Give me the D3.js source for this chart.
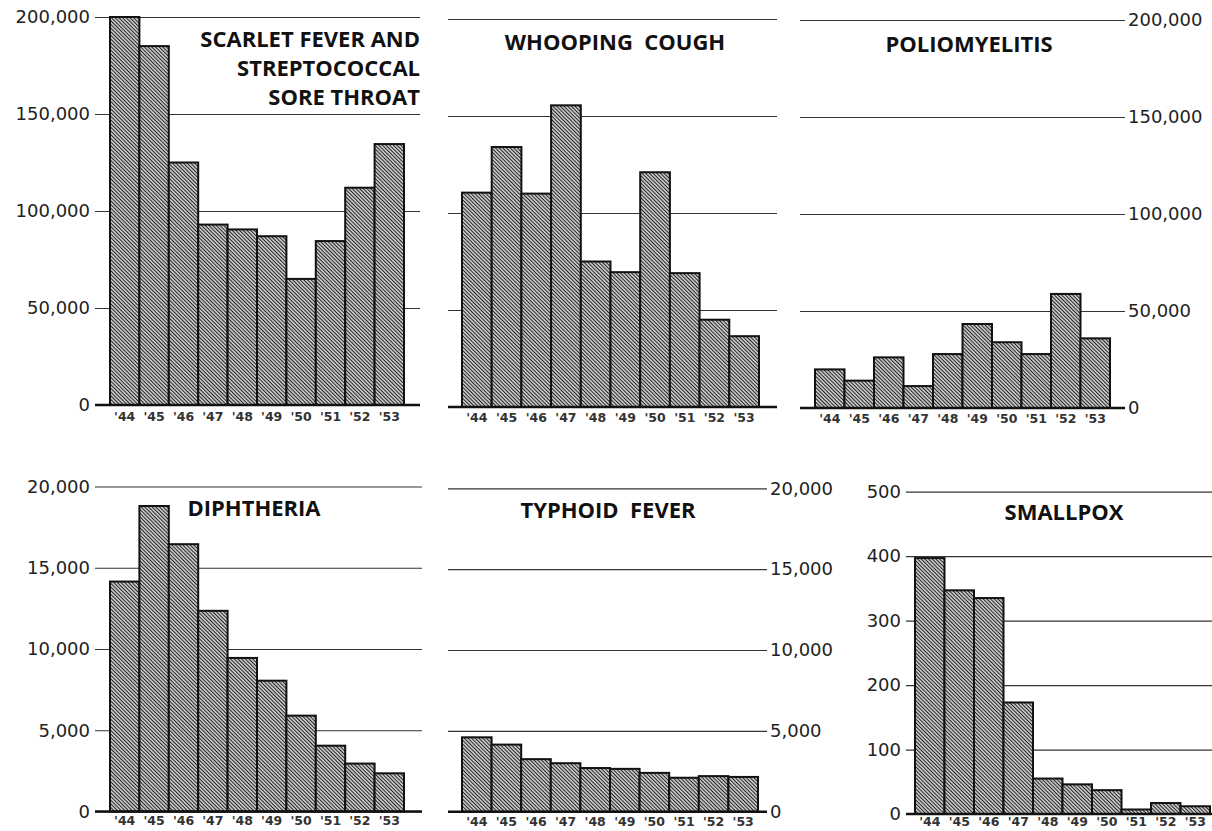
<!DOCTYPE html>
<html>
<head>
<meta charset="utf-8">
<script src="https://cdn.jsdelivr.net/npm/d3@7"></script>
<style>
html, body { margin: 0; padding: 0; background: #fff; }
svg { display: block; }
</style>
</head>
<body>
<svg id="chart" width="1212" height="831"></svg>
<script>
// reported cases by year
const years = ["'44", "'45", "'46", "'47", "'48", "'49", "'50", "'51", "'52", "'53"];

const scarletFever = [200000, 185000, 125000, 93000, 90500, 87000, 65000, 84500, 112000, 134500];
const whoopingCough = [110500, 134000, 110000, 155500, 75000, 69500, 121000, 69000, 45000, 36500];
const polio = [19900, 14100, 26100, 11300, 27800, 43300, 33900, 27800, 58800, 35900];
const diphtheria = [14150, 18800, 16450, 12350, 9450, 8050, 5900, 4050, 2950, 2350];
const typhoid = [4600, 4150, 3250, 3000, 2700, 2650, 2400, 2100, 2200, 2150];
const smallpox = [397, 347, 335, 173, 55, 46, 37, 7, 17, 12];

const bigTicks = [0, 50000, 100000, 150000, 200000];
const midTicks = [0, 5000, 10000, 15000, 20000];
const smallTicks = [0, 100, 200, 300, 400, 500];

const panels = [
    { title: ['SCARLET FEVER AND', 'STREPTOCOCCAL', 'SORE THROAT'], values: scarletFever, ticks: bigTicks,
      grid: [95, 420], bars: [110, 404], y: [405, 17], side: 'left', tx: 420, ty: 47, anchor: 'end', yearPad: 7 },
    { title: ['WHOOPING  COUGH'], values: whoopingCough, ticks: bigTicks,
      grid: [448, 777], bars: [462, 759], y: [407, 19], side: 'none', tx: 615, ty: 50, anchor: 'middle', yearPad: 6 },
    { title: ['POLIOMYELITIS'], values: polio, ticks: bigTicks,
      grid: [800, 1125], bars: [815, 1110], y: [408, 20], side: 'right', tx: 969, ty: 52, anchor: 'middle', yearPad: 6 },
    { title: ['DIPHTHERIA'], values: diphtheria, ticks: midTicks,
      grid: [95, 422], bars: [110, 404], y: [811.5, 486.5], side: 'left', tx: 254, ty: 516, anchor: 'middle', yearPad: 5 },
    { title: ['TYPHOID  FEVER'], values: typhoid, ticks: midTicks,
      grid: [448, 767], bars: [462, 758], y: [811.7, 488.3], side: 'right', tx: 608, ty: 518, anchor: 'middle', yearPad: 5 },
    { title: ['SMALLPOX'], values: smallpox, ticks: smallTicks,
      grid: [906, 1212], bars: [915, 1210], y: [814, 491.7], side: 'left', tx: 1064, ty: 520, anchor: 'middle', yearPad: 3 }
];

const svg = d3.select('#chart');

// diagonal hatch used for every bar
const pattern = svg.append('defs')
    .append('pattern')
    .attr('id', 'hatch')
    .attr('patternUnits', 'userSpaceOnUse')
    .attr('width', 6)
    .attr('height', 2.6)
    .attr('patternTransform', 'rotate(45)');
pattern.append('rect')
    .attr('width', 6)
    .attr('height', 2.6)
    .attr('fill', '#f0f0f0');
pattern.append('line')
    .attr('x1', 0).attr('x2', 6)
    .attr('y1', 1.3).attr('y2', 1.3)
    .attr('stroke', '#1e1e1e')
    .attr('stroke-width', 1.25);

panels.forEach((p) => {
    const g = svg.append('g');
    const y = d3.scaleLinear().domain([0, d3.max(p.ticks)]).range(p.y);
    const x = d3.scaleBand().domain(years).range(p.bars).padding(0);
    const w = p.grid[1] - p.grid[0];

    // gridlines + value labels
    const axis = (p.side === 'right' ? d3.axisRight(y) : d3.axisLeft(y))
        .tickValues(p.ticks)
        .tickFormat(d3.format(','))
        .tickSize(-w)
        .tickPadding(p.side === 'right' ? 3 : 5);
    const ax = g.append('g')
        .attr('transform', `translate(${p.side === 'right' ? p.grid[1] : p.grid[0]},0)`)
        .call(axis);
    ax.select('.domain').remove();
    ax.selectAll('line')
        .attr('stroke', '#333')
        .attr('stroke-width', 1.2);
    ax.selectAll('text')
        .attr('font-family', 'DejaVu Sans')
        .attr('font-size', 18)
        .attr('fill', '#222');
    if (p.side === 'none') ax.selectAll('text').remove();

    // bars
    g.append('g')
        .selectAll('rect')
        .data(p.values)
        .join('rect')
        .attr('x', (d, i) => x(years[i]))
        .attr('width', x.bandwidth())
        .attr('y', d => y(d))
        .attr('height', d => y(0) - y(d))
        .attr('fill', 'url(#hatch)')
        .attr('stroke', '#111')
        .attr('stroke-width', 2);

    // heavy zero line
    g.append('line')
        .attr('x1', p.grid[0])
        .attr('x2', p.grid[1])
        .attr('y1', y(0))
        .attr('y2', y(0))
        .attr('stroke', '#111')
        .attr('stroke-width', 2.6);

    // year labels
    const xa = g.append('g')
        .attr('transform', `translate(0,${y(0)})`)
        .call(d3.axisBottom(x).tickSize(0).tickPadding(p.yearPad));
    xa.select('.domain').remove();
    xa.selectAll('text')
        .attr('font-family', 'DejaVu Sans')
        .attr('font-size', 12.5)
        .attr('font-weight', 'bold')
        .attr('fill', '#333');

    // title, one text per line
    g.append('g')
        .selectAll('text')
        .data(p.title)
        .join('text')
        .attr('font-family', 'Open Sans')
        .attr('font-weight', 700)
        .attr('font-size', 22)
        .attr('fill', '#111')
        .attr('text-anchor', p.anchor)
        .attr('x', p.tx)
        .attr('y', (d, i) => p.ty + i * 29)
        .style('white-space', 'pre')
        .text(d => d);
});
</script>
</body>
</html>
